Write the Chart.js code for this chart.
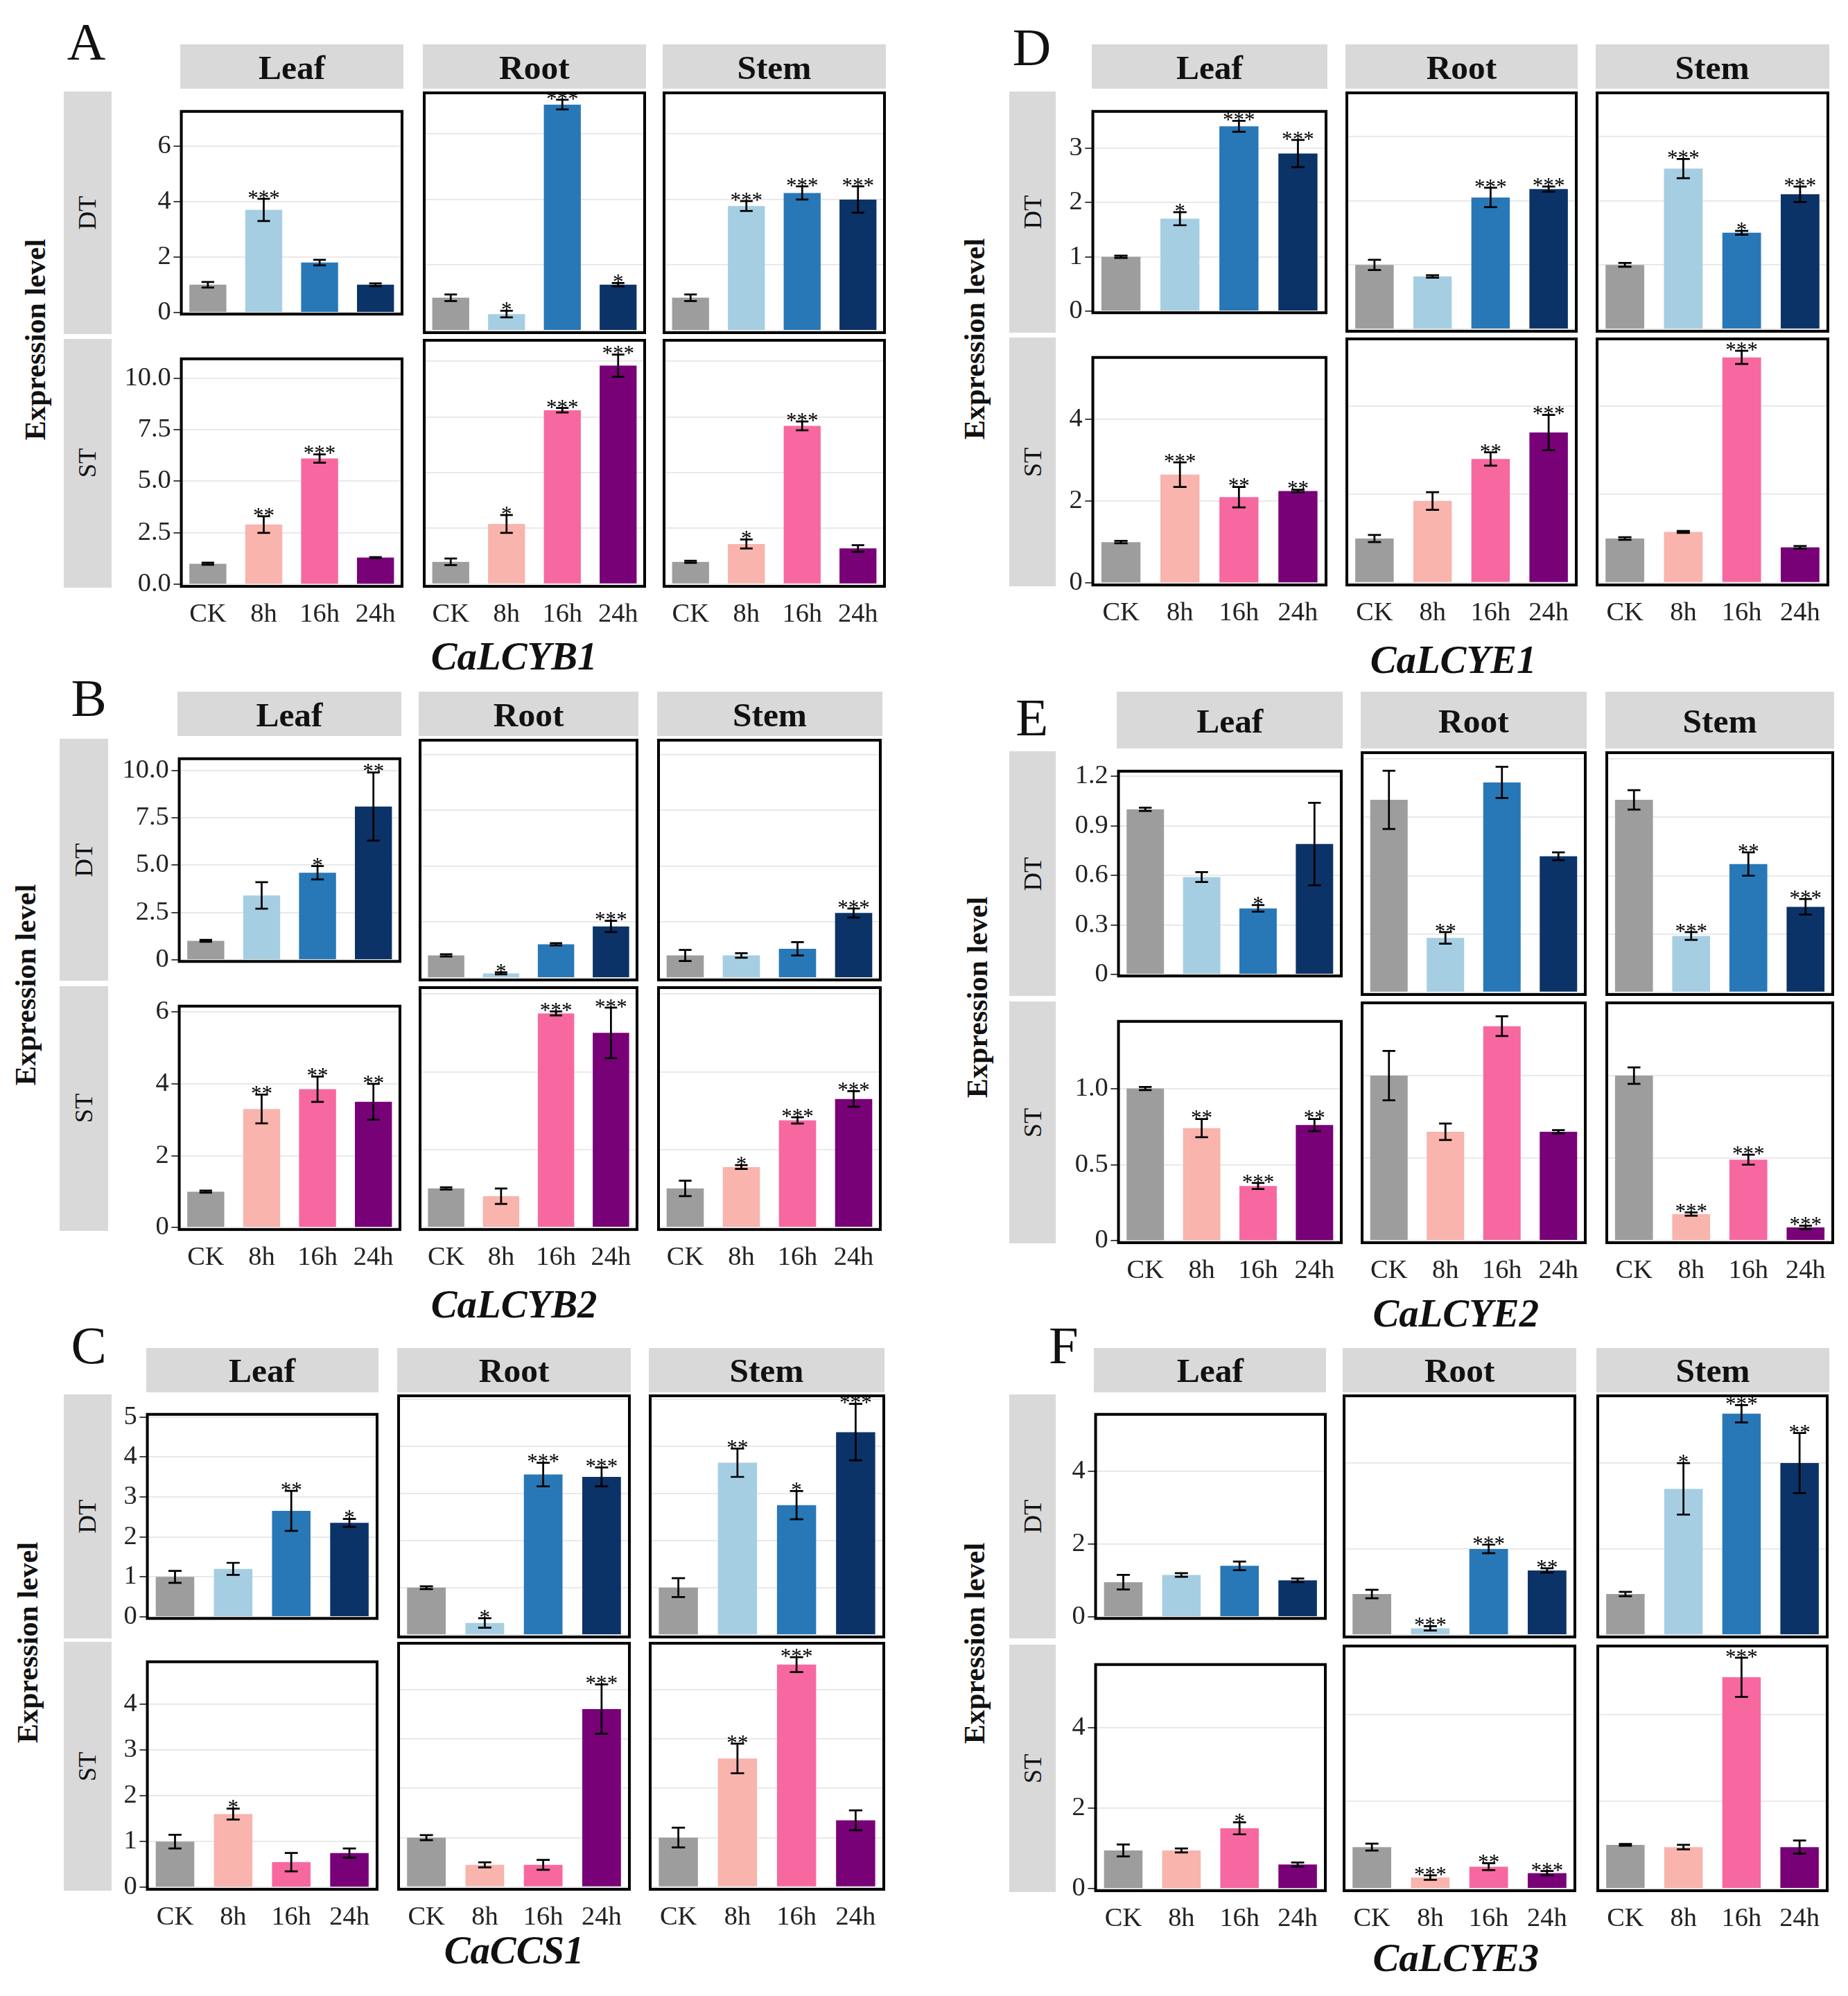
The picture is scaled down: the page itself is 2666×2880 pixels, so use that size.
<!DOCTYPE html>
<html>
<head>
<meta charset="utf-8">
<script src="https://cdn.jsdelivr.net/npm/chart.js@4"></script>
<style>
body { margin:0; background:#fff; }
#wrap { position:relative; width:2666px; height:2880px; font-family:'Liberation Serif', serif; }
.abs { position:absolute; }
</style>
</head>
<body>
<div id="wrap"></div>
<script>
// layout is written in 1456-wide units, scaled up
const S = 2666 / 1456;
function px(v) { return v * S; }

const times = ['CK', '8h', '16h', '24h'];
const tissues = ['Leaf', 'Root', 'Stem'];
const dtColors = ['#9d9d9d', '#a6cee3', '#2878b8', '#0b3368'];
const stColors = ['#9d9d9d', '#f8b4ad', '#f768a1', '#780177'];

// order of rows: Leaf DT, Root DT, Stem DT, Leaf ST, Root ST, Stem ST
const A_mean = [[1.0,3.7,1.8,1.0],[1.0,0.5,6.9,1.4],[1.0,3.8,4.2,4.0],[1.0,2.9,6.1,1.3],[1.0,2.7,7.8,9.8],[1.0,1.8,7.1,1.6]];
const A_err  = [[0.1,0.4,0.1,0.05],[0.1,0.1,0.15,0.05],[0.1,0.15,0.2,0.4],[0.05,0.4,0.2,0.02],[0.15,0.4,0.1,0.5],[0.05,0.2,0.2,0.15]];
const A_star = [['','***','',''],['','*','***','*'],['','***','***','***'],['','**','***',''],['','*','***','***'],['','*','***','']];

const D_mean = [[1.0,1.7,3.4,2.9],[1.0,0.82,2.05,2.18],[1.0,2.5,1.5,2.1],[1.0,2.65,2.1,2.25],[1.0,1.85,2.8,3.4],[1.0,1.15,5.1,0.8]];
const D_err  = [[0.02,0.12,0.1,0.25],[0.08,0.02,0.15,0.04],[0.03,0.15,0.03,0.12],[0.03,0.3,0.25,0.03],[0.08,0.2,0.15,0.4],[0.03,0.02,0.15,0.03]];
const D_star = [['','*','***','***'],['','','***','***'],['','***','*','***'],['','***','**','**'],['','','**','***'],['','','***','']];

const B_mean = [[1.0,3.4,4.6,8.1],[1.0,0.2,1.5,2.3],[1.0,1.0,1.3,2.9],[1.0,3.3,3.85,3.5],[1.0,0.8,5.5,5.0],[1.0,1.55,2.75,3.3]];
const B_err  = [[0.05,0.7,0.35,1.8],[0.05,0.05,0.05,0.25],[0.25,0.1,0.3,0.2],[0.03,0.4,0.35,0.5],[0.03,0.2,0.05,0.65],[0.2,0.05,0.08,0.2]];
const B_star = [['','','*','**'],['','*','','***'],['','','','***'],['','**','**','**'],['','','***','***'],['','*','***','***']];

const E_mean = [[1.0,0.59,0.4,0.79],[0.99,0.28,1.08,0.7],[0.99,0.29,0.66,0.44],[1.0,0.74,0.36,0.76],[1.0,0.66,1.3,0.66],[1.0,0.16,0.49,0.08]];
const E_err  = [[0.01,0.03,0.02,0.25],[0.15,0.03,0.08,0.02],[0.05,0.02,0.06,0.04],[0.01,0.06,0.02,0.04],[0.15,0.05,0.06,0.01],[0.05,0.01,0.03,0.01]];
const E_star = [['','','*',''],['','**','',''],['','***','**','***'],['','**','***','**'],['','','',''],['','***','***','***']];

const C_mean = [[1.0,1.2,2.65,2.35],[1.0,0.25,3.4,3.35],[1.0,3.65,2.75,4.3],[1.0,1.6,0.55,0.75],[1.0,0.45,0.45,3.6],[1.0,2.6,4.5,1.35]];
const C_err  = [[0.15,0.15,0.5,0.1],[0.03,0.1,0.25,0.2],[0.2,0.3,0.3,0.6],[0.15,0.12,0.2,0.1],[0.05,0.05,0.1,0.5],[0.2,0.3,0.15,0.2]];
const C_star = [['','','**','*'],['','*','***','***'],['','**','*','***'],['','*','',''],['','','','***'],['','**','***','']];

const F_mean = [[0.95,1.15,1.4,1.0],[0.95,0.15,2.0,1.5],[0.95,3.4,5.15,4.0],[0.95,0.95,1.5,0.6],[0.95,0.25,0.5,0.35],[1.0,0.95,4.85,0.95]];
const F_err  = [[0.2,0.05,0.12,0.05],[0.1,0.05,0.1,0.05],[0.05,0.6,0.2,0.7],[0.15,0.05,0.15,0.05],[0.08,0.05,0.08,0.05],[0.02,0.05,0.45,0.15]];
const F_star = [['','','',''],['','***','***','**'],['','*','***','**'],['','','*',''],['','***','**','***'],['','','***','']];

const A_ticks = [[0,2,4,6],['0','2','4','6'],[0,2.5,5,7.5,10],['0.0','2.5','5.0','7.5','10.0']];
const D_ticks = [[0,1,2,3],['0','1','2','3'],[0,2,4],['0','2','4']];
const B_ticks = [[0,2.5,5,7.5,10],['0','2.5','5.0','7.5','10.0'],[0,2,4,6],['0','2','4','6']];
const E_ticks = [[0,0.3,0.6,0.9,1.2],['0','0.3','0.6','0.9','1.2'],[0,0.5,1],['0','0.5','1.0']];
const C_ticks = [[0,1,2,3,4,5],['0','1','2','3','4','5'],[0,1,2,3,4],['0','1','2','3','4']];
const F_ticks = [[0,2,4],['0','2','4'],[0,2,4],['0','2','4']];

const panels = [
  {letter:'A', lx:50, ly:8, title:'CaLCYB1', tx:405, ty:517, cols:[[142,318],[333,509],[522,698]], strip:[35,70], dt:[72,263], st:[267,463], side:[50,88], ylab:28, dtMax:7.3, stMax:11.0, mean:A_mean, err:A_err, star:A_star, ticks:A_ticks},
  {letter:'D', lx:795, ly:12, title:'CaLCYE1', tx:1145, ty:520, cols:[[860,1046],[1060,1243],[1257,1441]], strip:[35,70], dt:[72,262], st:[266,462], side:[795,832], ylab:768, dtMax:3.7, stMax:5.55, mean:D_mean, err:D_err, star:D_star, ticks:D_ticks},
  {letter:'B', lx:52, ly:525, title:'CaLCYB2', tx:405, ty:1028, cols:[[140,316],[330,503],[518,695]], strip:[545,580], dt:[582,773], st:[777,970], side:[47,85], ylab:20, dtMax:10.7, stMax:6.2, mean:B_mean, err:B_err, star:B_star, ticks:B_ticks},
  {letter:'E', lx:795, ly:540, title:'CaLCYE2', tx:1147, ty:1035, cols:[[880,1058],[1072,1250],[1265,1445]], strip:[545,590], dt:[592,785], st:[789,980], side:[795,832], ylab:770, dtMax:1.24, stMax:1.45, mean:E_mean, err:E_err, star:E_star, ticks:E_ticks},
  {letter:'C', lx:52, ly:1035, title:'CaCCS1', tx:405, ty:1537, cols:[[115,298],[313,497],[511,697]], strip:[1062,1097], dt:[1099,1291], st:[1294,1490], side:[50,88], ylab:22, dtMax:5.1, stMax:4.96, mean:C_mean, err:C_err, star:C_star, ticks:C_ticks},
  {letter:'F', lx:820, ly:1035, title:'CaLCYE3', tx:1147, ty:1543, cols:[[862,1045],[1058,1242],[1258,1441]], strip:[1062,1097], dt:[1099,1291], st:[1296,1491], side:[795,832], ylab:768, dtMax:5.6, stMax:5.6, mean:F_mean, err:F_err, star:F_star, ticks:F_ticks}
];

const wrap = document.getElementById('wrap');

function addText(txt, cx, cy, size, style, rot) {
  const d = document.createElement('div');
  d.className = 'abs';
  d.textContent = txt;
  d.style.left = px(cx) + 'px';
  d.style.top = px(cy) + 'px';
  d.style.fontSize = px(size) + 'px';
  d.style.whiteSpace = 'nowrap';
  d.style.lineHeight = '1';
  d.style.color = '#111';
  d.style.cssText += style;
  d.style.transform = 'translate(-50%,-50%)' + (rot ? ' rotate(-90deg)' : '');
  wrap.appendChild(d);
}
function addRect(x0, y0, x1, y1, color) {
  const d = document.createElement('div');
  d.className = 'abs';
  d.style.left = px(x0) + 'px';
  d.style.top = px(y0) + 'px';
  d.style.width = px(x1 - x0) + 'px';
  d.style.height = px(y1 - y0) + 'px';
  d.style.background = color;
  wrap.appendChild(d);
}

// error bars, stars and the black frame
const barExtras = {
  id: 'barExtras',
  afterDatasetsDraw(chart) {
    const o = chart.options.plugins.barExtras;
    const ctx = chart.ctx;
    const ys = chart.scales.y;
    const meta = chart.getDatasetMeta(0);
    ctx.save();
    ctx.strokeStyle = '#000';
    ctx.lineWidth = px(1.5);
    meta.data.forEach((el, i) => {
      const m = o.mean[i], e = o.err[i];
      const yt = ys.getPixelForValue(m + e), yb = ys.getPixelForValue(m - e);
      const cw = el.width * 0.17;
      ctx.beginPath();
      ctx.moveTo(el.x, yt); ctx.lineTo(el.x, yb);
      ctx.moveTo(el.x - cw, yt); ctx.lineTo(el.x + cw, yt);
      ctx.moveTo(el.x - cw, yb); ctx.lineTo(el.x + cw, yb);
      ctx.stroke();
      if (o.star[i]) {
        const f = px(17);
        ctx.fillStyle = '#000';
        ctx.font = f + 'px "Liberation Serif"';
        ctx.textAlign = 'center';
        ctx.textBaseline = 'top';
        ctx.fillText(o.star[i], el.x, yt - px(1) - 0.42 * f);
      }
    });
    const a = chart.chartArea;
    const lw = px(2.2);
    ctx.lineWidth = lw;
    ctx.strokeRect(a.left + lw / 2, a.top + lw / 2, a.right - a.left - lw, a.bottom - a.top - lw);
    ctx.restore();
  }
};

function makeChart(p, c, row) {
  const first = c === 0, bottom = row === 1;
  const yW = first ? 50 : 0;
  const xH = bottom ? 42 : 0;
  const box = row === 0 ? p.dt : p.st;
  const col = p.cols[c];
  const k = row * 3 + c;
  const max = row === 0 ? p.dtMax : p.stMax;
  const tv = p.ticks[row * 2], tl = p.ticks[row * 2 + 1];

  const d = document.createElement('div');
  d.className = 'abs';
  const w = px(col[1] - col[0] + yW), h = px(box[1] - box[0] + xH);
  d.style.left = px(col[0] - yW) + 'px';
  d.style.top = px(box[0]) + 'px';
  const cv = document.createElement('canvas');
  cv.width = Math.round(w); cv.height = Math.round(h);
  d.appendChild(cv);
  wrap.appendChild(d);

  new Chart(cv, {
    type: 'bar',
    data: {
      labels: times,
      datasets: [{
        data: p.mean[k],
        backgroundColor: row === 0 ? dtColors : stColors,
        categoryPercentage: 0.92,
        barPercentage: 0.72
      }]
    },
    options: {
      responsive: false,
      animation: false,
      devicePixelRatio: 1,
      layout: {padding: 0},
      plugins: {
        legend: {display: false},
        tooltip: {enabled: false},
        barExtras: {mean: p.mean[k], err: p.err[k], star: p.star[k]}
      },
      scales: {
        x: {
          display: bottom,
          grid: {display: false},
          border: {display: false},
          ticks: {color: '#222', font: {family: 'Liberation Serif', size: px(21)}, padding: px(4), maxRotation: 0, autoSkip: false},
          afterFit: s => { s.height = px(xH); }
        },
        y: {
          min: -0.015 * max,
          max: max,
          border: {display: false},
          grid: {color: '#e6e6e6', lineWidth: px(1), drawTicks: first, tickLength: px(5), tickColor: '#333'},
          ticks: {display: first, color: '#222', font: {family: 'Liberation Serif', size: px(21)}, padding: px(2),
                  callback: (v, i) => tl[i]},
          afterBuildTicks: s => { s.ticks = tv.map(v => ({value: v})); },
          afterFit: s => { s.width = px(yW); }
        }
      }
    },
    plugins: [barExtras]
  });
}

panels.forEach(p => {
  addText(p.letter, p.lx + 18, p.ly + 25, 42, '');
  p.cols.forEach((col, c) => {
    addRect(col[0], p.strip[0], col[1], p.strip[1], '#d9d9d9');
    addText(tissues[c], (col[0] + col[1]) / 2, (p.strip[0] + p.strip[1]) / 2 + 1, 27, 'font-weight:bold;');
  });
  addRect(p.side[0], p.dt[0], p.side[1], p.dt[1], '#d9d9d9');
  addRect(p.side[0], p.st[0], p.side[1], p.st[1], '#d9d9d9');
  addText('DT', (p.side[0] + p.side[1]) / 2, (p.dt[0] + p.dt[1]) / 2, 20, '', true);
  addText('ST', (p.side[0] + p.side[1]) / 2, (p.st[0] + p.st[1]) / 2, 20, '', true);
  addText('Expression level', p.ylab, (p.dt[0] + p.st[1]) / 2, 23, 'font-weight:bold;', true);
  addText(p.title, p.tx, p.ty, 31, 'font-weight:bold;font-style:italic;');
  for (let row = 0; row < 2; row++) {
    for (let c = 0; c < 3; c++) makeChart(p, c, row);
  }
});
</script>
</body>
</html>
